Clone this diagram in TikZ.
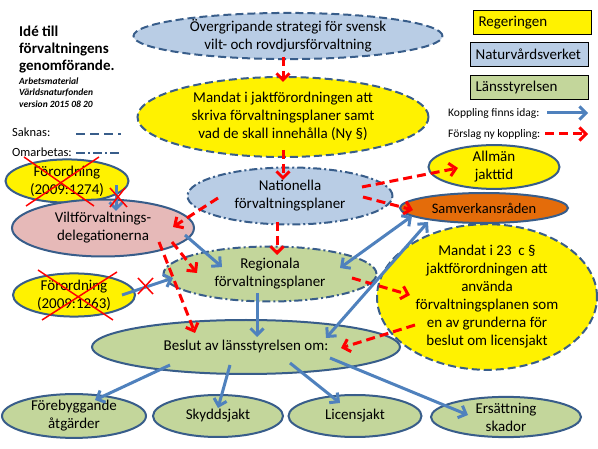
\documentclass[tikz,border=0pt]{standalone}
\usepackage{fontspec}
\setmainfont{Carlito}
\usetikzlibrary{shapes.geometric,arrows.meta,calc}
\definecolor{bord}{HTML}{385D8A}
\definecolor{lblue}{HTML}{B9CDE5}
\definecolor{lgreen}{HTML}{C3D69B}
\definecolor{lpink}{HTML}{E6B9B8}
\definecolor{orng}{HTML}{E46C0A}
\definecolor{ablue}{HTML}{4F81BD}
\definecolor{ared}{HTML}{FF0000}
\begin{document}
\begin{tikzpicture}[x=1pt,y=-1pt,
  ell/.style={ellipse, draw=bord, line width=2pt, inner sep=0pt, align=center, font=\fontsize{15}{18}\selectfont},
  dsh/.style={dash pattern=on 8pt off 4pt},
  dshdot/.style={dash pattern=on 8pt off 3pt on 2pt off 3pt},
  sz/.style 2 args={minimum width=#1pt, minimum height=#2pt},
  redarr/.style={draw=ared, line width=3pt, dash pattern=on 9pt off 5pt, -{Straight Barb[length=6.5pt,width=13pt]}},
  bluearr/.style={draw=ablue, line width=3pt, -{Straight Barb[length=6.5pt,width=13pt]}},
  bluedbl/.style={draw=ablue, line width=3pt, {Straight Barb[length=6.5pt,width=13pt]}-{Straight Barb[length=6.5pt,width=13pt]}},
  xmark/.style={draw=ared, line width=1.5pt},
  legbox/.style={draw=black, line width=1.2pt, text width=108pt, align=left, inner xsep=5pt, inner ysep=0pt, minimum height=24pt, anchor=north west, font=\fontsize{15}{17}\selectfont},
  lbl/.style={anchor=base west, inner sep=0pt},
]
\useasboundingbox (0,0) rectangle (598,449);
\fill[white] (0,0) rectangle (598,449);

% title
\node[lbl, font=\bfseries\fontsize{15}{17}\selectfont] (t1) at (19,37) {Idé till};
\node[lbl, font=\bfseries\fontsize{15}{17}\selectfont] (t2) at (19,54) {förvaltningens};
\node[lbl, font=\bfseries\fontsize{15}{17}\selectfont] (t3) at (19,71) {genomförande.};
\node[lbl, font=\bfseries\itshape\fontsize{9.5}{11}\selectfont] (t4) at (19,85) {Arbetsmaterial};
\node[lbl, font=\bfseries\itshape\fontsize{9.5}{11}\selectfont] (t5) at (19,96) {Världsnaturfonden};
\node[lbl, font=\bfseries\itshape\fontsize{9.5}{11}\selectfont] (t6) at (19,108) {version 2015 08 20};

% line legend
\node[lbl, font=\fontsize{12.5}{14}\selectfont] (sak) at (12,137) {Saknas:};
\node[lbl, font=\fontsize{12.5}{14}\selectfont] (omb) at (12,157) {Omarbetas:};
\coordinate (s1) at (76,134); \coordinate (s2) at (121,134);
\coordinate (o1) at (76,153); \coordinate (o2) at (121,153);
\draw[bord, line width=1.8pt, dash pattern=on 9pt off 5pt] (s1) -- (s2);
\draw[bord, line width=1.8pt, dash pattern=on 9pt off 3pt on 2pt off 3pt] (o1) -- (o2);

% colour legend
\node[legbox, fill=yellow] (leg1) at (473,10) {Regeringen};
\node[legbox, fill=lblue] (leg2) at (470,42) {Naturvårdsverket};
\node[legbox, fill=lgreen] (leg3) at (470,75) {Länsstyrelsen};
\node[anchor=west, inner sep=0pt, font=\fontsize{11.5}{13}\selectfont] (kop) at (448,113) {Koppling finns idag:};
\node[anchor=west, inner sep=0pt, font=\fontsize{11.5}{13}\selectfont] (fors) at (448,134) {Förslag ny koppling:};
\coordinate (k1) at (547,113); \coordinate (k2) at (588,113);
\coordinate (f1) at (545,134); \coordinate (f2) at (588,134);
\draw[bluearr] (k1) -- (k2);
\draw[redarr] (f1) -- (f2);

% main ellipses
\node[ell, dsh, fill=lblue, sz={309}{46}] (strat) at (288,36) {Övergripande strategi för svensk\\vilt- och rovdjursförvaltning};
\node[ell, dsh, fill=yellow, sz={291}{80}] (mandat) at (283,117) {Mandat i jaktförordningen att\\skriva förvaltningsplaner samt\\vad de skall innehålla (Ny §)};
\node[ell, dshdot, fill=lblue, sz={205}{57}] (nat) at (290,196) {Nationella\\förvaltningsplaner};
\node[ell, fill=yellow, sz={131}{39}] (allman) at (494,167) {Allmän\\jakttid};
\node[ell, fill=orng, sz={168}{30}, font=\fontsize{14.5}{16}\selectfont] (samv) at (484,208) {Samverkansråden};
\node[ell, dsh, fill=yellow, sz={220}{133}] (man23) at (487,297) {Mandat i 23\ \ c §\\jaktförordningen att\\använda\\förvaltningsplanen som\\en av grunderna för\\beslut om licensjakt};
\node[ell, fill=yellow, sz={123}{36}] (f1274) at (67,181) {Förordning\\(2009:1274)};
\node[ell, fill=lpink, sz={182}{57}] (vilt) at (103,228) {Viltförvaltnings-\\delegationerna};
\node[ell, dshdot, fill=lgreen, sz={213}{55}] (reg) at (270,274) {Regionala\\förvaltningsplaner};
\node[ell, fill=yellow, sz={122}{35}] (f1263) at (74,295) {Förordning\\(2009:1263)};
\node[ell, fill=lgreen, sz={308}{54}] (beslut) at (246,347) {Beslut av länsstyrelsen om:};
\node[ell, fill=lgreen, sz={144}{42}] (fore) at (74,416) {Förebyggande\\åtgärder};
\node[ell, fill=lgreen, sz={130}{42}] (skydd) at (218,416) {Skyddsjakt};
\node[ell, fill=lgreen, sz={133}{42}] (lic) at (355,416) {Licensjakt};
\node[ell, fill=lgreen, sz={150}{40}] (ers) at (506,417) {Ersättning\\skador};

% crosses over the two Förordning ellipses
\draw[xmark] ($(f1274)+(-43,-24)$) -- ($(f1274)+(27,25)$);
\draw[xmark] ($(f1274)+(32,-24)$) -- ($(f1274)+(-41,25)$);
\draw[xmark] ($(f1263)+(-36,-25)$) -- ($(f1263)+(39,25)$);
\draw[xmark] ($(f1263)+(43,-23)$) -- ($(f1263)+(-32,25)$);

% proposed links (red dashed)
\draw[redarr] ($(strat)+(-5,21)$) -- ($(mandat)+(0,-35)$);
\draw[redarr] ($(mandat)+(0,33)$) -- ($(nat)+(-7,-16)$);
\draw[redarr] ($(nat)+(-72,2)$) -- ($(vilt)+(70,-1)$);
\draw[redarr] ($(nat)+(72,-9)$) -- ($(allman)+(-36,1)$);
\draw[redarr] ($(nat)+(73,1)$) -- ($(samv)+(-71,2)$);
\draw[redarr] ($(nat)+(-13,26)$) -- ($(reg)+(7,-19)$);
\draw[redarr] ($(vilt)+(69,14)$) -- ($(reg)+(-73,-1)$);
\draw[redarr] ($(vilt)+(56,14)$) -- ($(beslut)+(-51,-14)$);
\draw[redarr] ($(reg)+(82,4)$) -- ($(man23)+(-77,-2)$);
\draw[redarr] ($(man23)+(-72,28)$) -- ($(beslut)+(95,1)$);

% existing links (blue)
\draw[bluearr] ($(f1274)+(49,4)$) -- ($(vilt)+(13,-17)$);
\draw[bluearr] ($(vilt)+(82,7)$) -- ($(reg)+(-48,-7)$);
\draw[bluearr] ($(f1263)+(48,0)$) -- ($(reg)+(-97,4)$);
\draw[bluedbl] ($(samv)+(-72,8)$) -- ($(reg)+(70,-6)$);
\draw[bluedbl] ($(samv)+(-56,14)$) -- ($(beslut)+(80,-9)$);
\draw[bluearr] ($(reg)+(-13,19)$) -- ($(beslut)+(11,-10)$);
\draw[bluearr] ($(beslut)+(-76,18)$) -- ($(fore)+(21,-16)$);
\draw[bluearr] ($(beslut)+(-16,18)$) -- ($(skydd)+(0,-8)$);
\draw[bluearr] ($(beslut)+(44,16)$) -- ($(lic)+(-15,-13)$);
\draw[bluearr] ($(beslut)+(84,11)$) -- ($(ers)+(-38,-2)$);

% crosses over two blue links
\draw[xmark] (110,188) -- (127,207);
\draw[xmark] (125,188) -- (110,207);
\draw[xmark] (138,278) -- (153,294);
\draw[xmark] (153,278) -- (138,294);
\end{tikzpicture}
\end{document}
